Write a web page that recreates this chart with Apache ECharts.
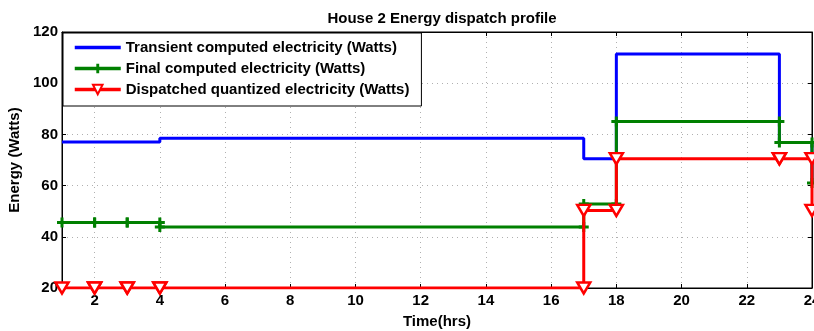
<!DOCTYPE html>
<html>
<head>
<meta charset="utf-8">
<script src="https://cdn.jsdelivr.net/npm/echarts@6/dist/echarts.min.js"></script>
<style>html,body{margin:0;padding:0;background:#fff;}#c{width:814px;height:331px;}</style>
</head>
<body>
<div id="c"></div>
<script>
const hours = [1, 2, 3, 4, 17, 18, 23, 24];
const transient = [77, 77, 77, 78.5, 70.5, 111.4, 76.8, 61];
const finalElec = [45.6, 45.6, 45.6, 43.8, 52.8, 85, 76.8, 61];
const dispatched = [20, 20, 20, 20, 50.3, 70.5, 70.5, 50.3];
const xTicks = [2, 4, 6, 8, 10, 12, 14, 16, 18, 20, 22, 24];
const yTicks = [20, 40, 60, 80, 100, 120];
const seriesNames = ['Transient computed electricity (Watts)', 'Final computed electricity (Watts)', 'Dispatched quantized electricity (Watts)'];

// MATLAB-style stairs: a vertex at every corner
function stairs(xs, ys) {
  const pts = [];
  for (let i = 0; i < xs.length; i++) {
    if (i > 0) pts.push([xs[i], ys[i - 1]]);
    pts.push([xs[i], ys[i]]);
  }
  return pts;
}

const FONT = '"Liberation Sans", Arial, sans-serif';
const plusPath = 'path://M3.5,0 L6.5,0 L6.5,3.5 L10,3.5 L10,6.5 L6.5,6.5 L6.5,10 L3.5,10 L3.5,6.5 L0,6.5 L0,3.5 L3.5,3.5 Z';

const chart = echarts.init(document.getElementById('c'), null, { renderer: 'canvas' });
chart.setOption({
  animation: false,
  backgroundColor: '#fff',
  title: {
    text: 'House 2 Energy dispatch profile',
    left: 437, top: 6, textAlign: 'center',
    textStyle: { fontFamily: FONT, fontSize: 15, fontWeight: 'bold', color: '#000' }
  },
  grid: { left: 62, right: 2, top: 32, bottom: 43, show: true, borderColor: '#000', borderWidth: 1, backgroundColor: '#fff', outerBoundsMode: 'none', containLabel: false },
  legend: {
    orient: 'vertical', left: 63, top: 33,
    backgroundColor: '#fff', borderColor: '#000', borderWidth: 1,
    padding: [7, 12, 9, 10], itemGap: 6, itemWidth: 46, itemHeight: 12,
    lineStyle: { width: 3.5 },
    textStyle: { fontFamily: FONT, fontSize: 15, fontWeight: 'bold', color: '#000' },
    data: [
      { name: seriesNames[0], itemStyle: { opacity: 0 } },
      { name: seriesNames[1] },
      { name: seriesNames[2] }
    ]
  },
  xAxis: [{
    type: 'value', min: 1, max: 24,
    name: 'Time(hrs)', nameLocation: 'middle', nameGap: 26,
    nameTextStyle: { fontFamily: FONT, fontSize: 15, fontWeight: 'bold', color: '#000' },
    axisLine: { show: true, lineStyle: { color: '#000', width: 1 } },
    axisTick: { show: true, inside: true, length: 4, customValues: xTicks, lineStyle: { color: '#000' } },
    axisLabel: { customValues: xTicks, fontFamily: FONT, fontSize: 15, fontWeight: 'bold', color: '#000', margin: 5 },
    splitLine: { show: true, lineStyle: { color: '#b0b0b0', type: [1, 4], width: 1 } }
  }, {
    type: 'value', min: 1, max: 24, position: 'top',
    axisLine: { show: true, lineStyle: { color: '#000' } },
    axisTick: { show: true, inside: true, length: 4, customValues: xTicks, lineStyle: { color: '#000' } },
    axisLabel: { show: false }, splitLine: { show: false }
  }],
  yAxis: [{
    type: 'value', min: 20, max: 120, interval: 20,
    name: 'Energy (Watts)', nameLocation: 'middle', nameGap: 38,
    nameTextStyle: { fontFamily: FONT, fontSize: 15, fontWeight: 'bold', color: '#000' },
    axisLine: { show: true, lineStyle: { color: '#000', width: 1 } },
    axisTick: { show: true, inside: true, length: 4, lineStyle: { color: '#000' } },
    axisLabel: { fontFamily: FONT, fontSize: 15, fontWeight: 'bold', color: '#000', margin: 4 },
    splitLine: { show: true, lineStyle: { color: '#b0b0b0', type: [1, 4], width: 1 } }
  }, {
    type: 'value', min: 20, max: 120, interval: 20, position: 'right',
    axisLine: { show: true, lineStyle: { color: '#000' } },
    axisTick: { show: true, inside: true, length: 4, lineStyle: { color: '#000' } },
    axisLabel: { show: false }, splitLine: { show: false }
  }],
  series: [{
    name: seriesNames[0], type: 'line', data: stairs(hours, transient),
    symbol: 'none',
    lineStyle: { color: '#0000ff', width: 3 }, itemStyle: { color: '#0000ff' },
    emphasis: { disabled: true }, z: 2
  }, {
    name: seriesNames[1], type: 'line', data: stairs(hours, finalElec),
    symbol: plusPath, symbolSize: 10, showAllSymbol: true,
    lineStyle: { color: '#008000', width: 3 }, itemStyle: { color: '#008000' },
    emphasis: { disabled: true }, z: 3
  }, {
    name: seriesNames[2], type: 'line', data: stairs(hours, dispatched),
    symbol: 'triangle', symbolRotate: 180, symbolSize: [13, 11], showAllSymbol: true,
    lineStyle: { color: '#ff0000', width: 3 },
    itemStyle: { color: '#ffffff', borderColor: '#ff0000', borderWidth: 2.5 },
    emphasis: { disabled: true }, z: 4
  }]
});
</script>
</body>
</html>
